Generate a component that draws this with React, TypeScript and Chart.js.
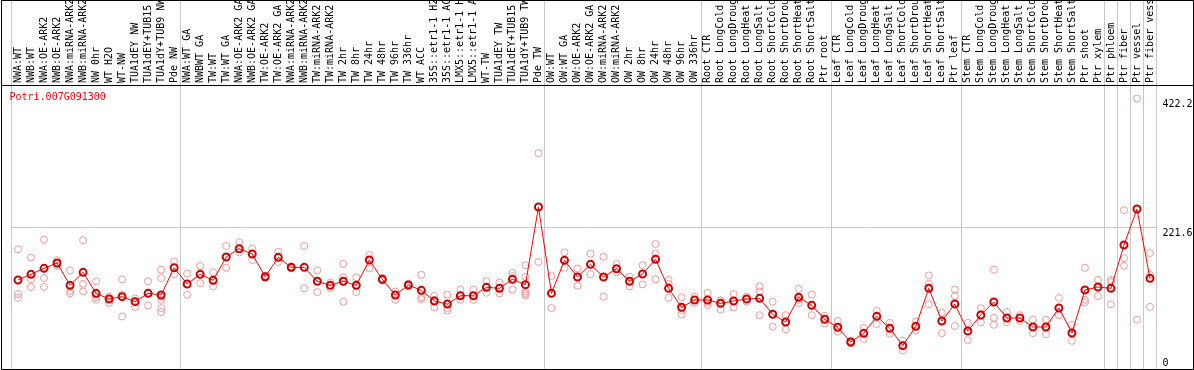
import { useEffect, useRef } from "react";
import { Chart, registerables } from "chart.js";

Chart.register(...registerables);

const categories = [
  "NWA:WT", "NWB:WT", "NWA:OE-ARK2", "NWB:OE-ARK2", "NWA:miRNA-ARK2", "NWB:miRNA-ARK2",
  "NW 0hr", "WT H2O", "WT-NW", "TUA1dEY NW", "TUA1dEY+TUB15 NW", "TUA1dY+TUB9 NW", "Pde NW",
  "NWA:WT GA", "NWBWT GA", "TW:WT", "TW:WT GA", "NWA:OE-ARK2 GA", "NWB:OE-ARK2 GA",
  "TW:OE-ARK2", "TW:OE-ARK2 GA", "NWA:miRNA-ARK2", "NWB:miRNA-ARK2", "TW:miRNA-ARK2",
  "TW:miRNA-ARK2", "TW 2hr", "TW 8hr", "TW 24hr", "TW 48hr", "TW 96hr", "TW 336hr", "WT ACC",
  "35S::etr1-1 H2O", "35S::etr1-1 ACC", "LMX5::etr1-1 H2O", "LMX5::etr1-1 ACC", "WT-TW",
  "TUA1dEY TW", "TUA1dEY+TUB15 TW", "TUA1dY+TUB9 TW", "Pde TW",
  "OW:WT", "OW:WT GA", "OW:OE-ARK2", "OW:OE-ARK2 GA", "OW:miRNA-ARK2", "OW:miRNA-ARK2",
  "OW 2hr", "OW 8hr", "OW 24hr", "OW 48hr", "OW 96hr", "OW 336hr",
  "Root CTR", "Root LongCold", "Root LongDrought", "Root LongHeat", "Root LongSalt",
  "Root ShortCold", "Root ShortDrought", "Root ShortHeat", "Root ShortSalt", "Ptr root",
  "Leaf CTR", "Leaf LongCold", "Leaf LongDrought", "Leaf LongHeat", "Leaf LongSalt",
  "Leaf ShortCold", "Leaf ShortDrought", "Leaf ShortHeat", "Leaf ShortSalt", "Ptr leaf",
  "Stem CTR", "Stem LongCold", "Stem LongDrought", "Stem LongHeat", "Stem LongSalt",
  "Stem ShortCold", "Stem ShortDrought", "Stem ShortHeat", "Stem ShortSalt", "Ptr shoot",
  "Ptr xylem", "Ptr phloem", "Ptr fiber", "Ptr vessel", "Ptr fiber vessel",
];

const means = [
  138.9, 147.8, 157.1, 165.4, 130.6, 150.9, 118.1, 109.2, 112.9, 105.1, 118.1, 115.5, 158.1,
  132.7, 147.8, 138.4, 174.8, 187.7, 179.5, 144, 174.3, 158.7, 158.7, 136.9, 130.6, 136.9,
  130.6, 170.1, 140, 115.5, 131.1, 122.8, 106.1, 101.4, 114.4, 114.4, 127.5, 125.9, 140,
  131.6, 252.8,
  118.1, 169.6, 143.6, 163.4, 143.6, 156.5, 136.9, 148.3, 171.2, 125.9, 96.3, 107.7,
  107.7, 102.5, 106.1, 109.2, 110.3, 85.4, 73.3, 111.9, 99.4, 77.6,
  65.1, 42.1, 55.7, 82.2, 63.5, 36.4, 66.6, 125.9, 74.9, 101.4,
  59.3, 84.3, 104.6, 79.6, 79.6, 65.5, 65.5, 95.2, 56.2, 123.3,
  128, 125.9, 193.5, 249.7, 141.5,
];

const replicates = [
  [187, 117, 111], [174, 140, 128], [202, 142, 128], [170, 165, 161], [154, 122, 118],
  [201, 133, 121], [137, 116, 112, 108], [113, 110, 103], [140, 116, 82], [110, 106, 97],
  [137, 118, 99], [155, 142, 113, 108, 95, 89], [168, 148],
  [149, 116], [161, 134], [151, 129], [192, 158], [198, 182], [188, 170], [146, 142],
  [183, 167], [160, 157], [192, 126], [154, 120], [135, 126], [164, 143, 105], [143, 120],
  [178, 157], [142, 138], [121, 108], [133, 129], [147, 112, 109], [114, 108, 96],
  [116, 95, 91], [124, 108], [124, 108], [137, 119], [135, 118], [150, 145, 124],
  [162, 144, 121, 118, 115], [337, 167],
  [145, 95], [182, 158], [157, 130], [180, 148], [175, 113], [164, 151], [144, 129],
  [162, 132], [195, 180, 140], [139, 133, 111], [112, 92, 85], [113, 103],
  [119, 104, 100], [107, 107, 93], [117, 96], [113, 105], [129, 121, 84], [105, 66],
  [84, 62], [125, 108, 103], [116, 84], [83, 71],
  [75, 58], [44, 40], [64, 47], [91, 70], [72, 55], [44, 37, 29], [74, 60],
  [146, 133, 101], [88, 56], [124, 114, 67],
  [72, 45], [95, 73], [155, 80, 69], [89, 73], [84, 75], [77, 56], [77, 54], [111, 84],
  [69, 44], [158, 108, 104],
  [139, 114], [139, 136, 101], [248, 173, 161], [422.2, 77], [181, 147, 97],
];

const yTickValues = [0, 221.6, 422.2];
const yTickLabels = ["0", "221.6", "422.2"];
const yMax = 443.3;
const groupStarts = [0, 13, 41, 53, 63, 73, 84, 85, 86, 87, 88];
const geneId = "Potri.007G091300";

export default function App() {
  const ref = useRef<HTMLCanvasElement>(null);

  useEffect(() => {
    document.body.style.margin = "0";
    const canvas = ref.current;
    if (!canvas) return;
    const font = { family: "'DejaVu Sans Mono', monospace", size: 10 };
    const gray = "#c8c8c8";
    const none = "rgba(0,0,0,0)";
    const maxReps = Math.max(...replicates.map((r) => r.length));
    const repSets = [];
    for (let k = 0; k < maxReps; k++) {
      repSets.push({
        type: "line",
        data: replicates.map((r) => (r[k] === undefined ? null : r[k])),
        showLine: false,
        pointRadius: 3.5,
        pointBorderWidth: 1,
        pointBorderColor: "#f29a9a",
        pointBackgroundColor: none,
        order: 1,
      });
    }

    const framePlugin = {
      id: "frame",
      afterDraw(chart: any) {
        const ctx = chart.ctx;
        const a = chart.chartArea;
        ctx.save();
        ctx.strokeStyle = "#000";
        ctx.lineWidth = 1;
        ctx.strokeRect(1.5, 0.5, 1192, 369);
        ctx.beginPath();
        ctx.moveTo(1, Math.round(a.top) + 0.5);
        ctx.lineTo(1193, Math.round(a.top) + 0.5);
        ctx.stroke();
        ctx.fillStyle = "#ff0000";
        ctx.font = "10px 'DejaVu Sans Mono', monospace";
        ctx.textBaseline = "middle";
        ctx.textAlign = "left";
        ctx.fillText(geneId, a.left - 2, a.top + 12);
        ctx.restore();
      },
    };

    const chart = new Chart(canvas, {
      type: "line",
      data: {
        labels: categories,
        datasets: [
          {
            type: "line",
            data: means,
            borderColor: "#ff0000",
            borderWidth: 1,
            pointRadius: 3.5,
            pointBorderWidth: 2,
            pointBorderColor: "#d00000",
            pointBackgroundColor: none,
            order: 0,
          },
          ...repSets,
        ] as any,
      },
      options: {
        responsive: false,
        animation: false,
        layout: { autoPadding: false, padding: { left: 11.5, right: 0, top: 0, bottom: 1 } },
        plugins: {
          legend: { display: false },
          tooltip: { enabled: false },
        },
        scales: {
          x: {
            type: "category",
            position: "top",
            offset: true,
            grid: {
              offset: true,
              color: (c: any) =>
                c.index === undefined || groupStarts.includes(c.index) ? gray : none,
              lineWidth: 1,
              tickLength: 85,
              drawOnChartArea: true,
              drawTicks: true,
            },
            border: { display: false },
            ticks: {
              autoSkip: false,
              minRotation: 90,
              maxRotation: 90,
              font,
              color: "#000",
              padding: -83,
              labelOffset: 12,
            },
            afterFit: (s: any) => {
              s.height = 85;
              s.paddingLeft = 0;
              s.paddingRight = 0;
            },
          },
          y: {
            position: "right",
            min: 0,
            max: yMax,
            afterBuildTicks: (s: any) => {
              s.ticks = yTickValues.map((v) => ({ value: v }));
            },
            afterFit: (s: any) => {
              s.width = 37.5;
              s.paddingTop = 0;
              s.paddingBottom = 0;
            },
            grid: {
              color: (c: any) => (c.tick && c.tick.value === 221.6 ? gray : none),
              drawTicks: false,
            },
            border: { display: false },
            ticks: {
              font,
              color: "#000",
              padding: 6,
              labelOffset: 6,
              callback: (_v: any, i: number) =>
                i === 0 ? [yTickLabels[0], "", ""] : yTickLabels[i],
            },
          },
        },
      } as any,
      plugins: [framePlugin],
    });
    return () => chart.destroy();
  }, []);

  return <canvas ref={ref} width={1194} height={370} style={{ display: "block" }} />;
}
